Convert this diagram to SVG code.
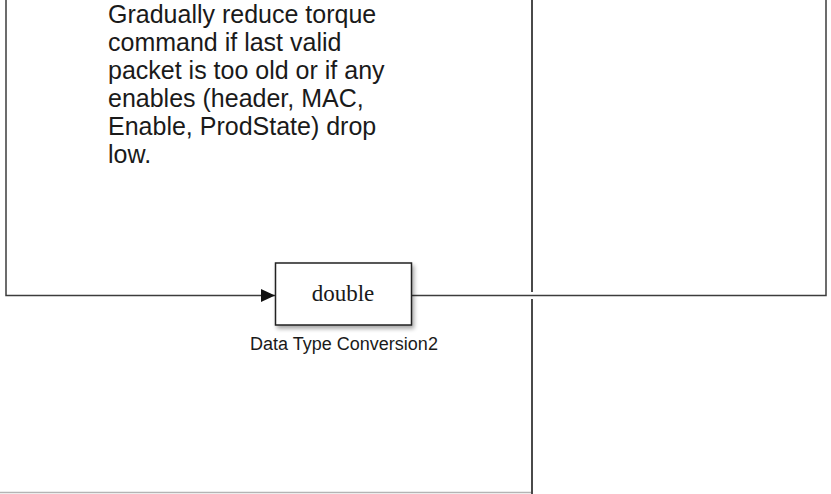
<svg xmlns="http://www.w3.org/2000/svg" width="831" height="494" viewBox="0 0 831 494">
  <defs>
    <style>
      .wire { fill: none; stroke: #3c3c3c; stroke-width: 1.5; }
      .frame { fill: none; stroke: #4a4a4a; stroke-width: 2; }
      .note { font-family: "Liberation Sans", Arial, sans-serif; font-size: 25px; fill: #1a1a1a; }
      .blk { fill: #ffffff; stroke: #222222; stroke-width: 1.5; }
      .blktxt { font-family: "Liberation Serif", "Times New Roman", serif; font-size: 23px; fill: #1a1a1a; text-anchor: middle; }
      .lbl { font-family: "Liberation Sans", Arial, sans-serif; font-size: 18px; fill: #1a1a1a; text-anchor: middle; }
    </style>
    <marker id="arrow" viewBox="0 0 14 14" refX="14" refY="7" markerWidth="14" markerHeight="14" markerUnits="userSpaceOnUse" orient="auto">
      <path d="M0,0.5 L14,7 L0,13.5 Z" fill="#111111"/>
    </marker>
    <filter id="shadow" x="-10%" y="-10%" width="130%" height="140%">
      <feGaussianBlur in="SourceAlpha" stdDeviation="2"/>
      <feOffset dx="2" dy="3" result="b"/>
      <feComponentTransfer><feFuncA type="linear" slope="0.35"/></feComponentTransfer>
      <feMerge><feMergeNode/><feMergeNode in="SourceGraphic"/></feMerge>
    </filter>
  </defs>

  <rect x="0" y="0" width="831" height="494" fill="#ffffff"/>

  <!-- enclosing area frame -->
  <g id="area-frame">
    <line x1="0" y1="492.5" x2="531" y2="492.5" stroke="#b4b4b4" stroke-width="1.5"/>
    <line class="frame" x1="532" y1="0" x2="532" y2="292"/>
    <line class="frame" x1="532" y1="299" x2="532" y2="494"/>
  </g>

  <!-- annotation -->
  <g id="note">
    <text class="note" x="108" y="23">Gradually reduce torque</text>
    <text class="note" x="108" y="51">command if last valid</text>
    <text class="note" x="108" y="79">packet is too old or if any</text>
    <text class="note" x="108" y="107">enables (header, MAC,</text>
    <text class="note" x="108" y="135">Enable, ProdState) drop</text>
    <text class="note" x="108" y="163">low.</text>
  </g>

  <!-- signal lines -->
  <g id="connectors">
    <polyline class="wire" points="6,0 6,295.5 275,295.5" marker-end="url(#arrow)"/>
    <polyline class="wire" points="411.5,295.5 826,295.5 826,0"/>
  </g>

  <!-- conversion block -->
  <g id="data-type-conversion2">
    <rect class="blk" x="275.5" y="263" width="136" height="62" filter="url(#shadow)"/>
    <text class="blktxt" x="343" y="301">double</text>
    <text class="lbl" x="344" y="350">Data Type Conversion2</text>
  </g>
</svg>
